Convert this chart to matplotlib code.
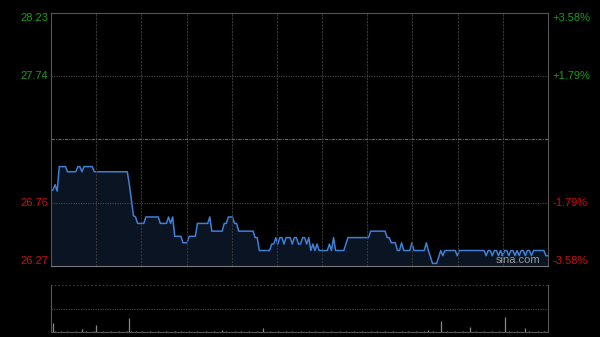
import matplotlib
matplotlib.use("Agg")
import matplotlib.pyplot as plt
import matplotlib.transforms as mtransforms

plt.rcParams['font.family'] = ['Liberation Sans', 'DejaVu Sans']

prev_close = 27.25
price_lo, price_hi = 26.27, 28.23
left_labels = ['28.23', '27.74', '26.76', '26.27']
left_values = [28.23, 27.74, 26.76, 26.27]
right_labels = ['+3.58%', '+1.79%', '-1.79%', '-3.58%']
label_colors = ['#1e9b1e', '#1e9b1e', '#cc1010', '#cc1010']

# one value per trading minute
prices = [
    26.85, 26.86, 26.90, 26.85, 27.04, 27.04, 27.04, 27.04, 27.00, 27.00,
    27.00, 27.00, 27.00, 27.04, 27.04, 27.00, 27.04, 27.04, 27.04, 27.04,
    27.04, 27.00, 27.00, 27.00, 27.00, 27.00, 27.00, 27.00, 27.00, 27.00,
    27.00, 27.00, 27.00, 27.00, 27.00, 27.00, 27.00, 27.00, 26.90, 26.78,
    26.66, 26.65, 26.60, 26.60, 26.60, 26.60, 26.65, 26.65, 26.65, 26.65,
    26.65, 26.65, 26.65, 26.60, 26.60, 26.60, 26.60, 26.65, 26.60, 26.65,
    26.50, 26.50, 26.50, 26.50, 26.45, 26.45, 26.45, 26.50, 26.50, 26.50,
    26.50, 26.60, 26.60, 26.60, 26.60, 26.60, 26.60, 26.65, 26.54, 26.54,
    26.54, 26.54, 26.54, 26.54, 26.60, 26.60, 26.65, 26.65, 26.65, 26.60,
    26.60, 26.54, 26.54, 26.54, 26.54, 26.54, 26.54, 26.54, 26.54, 26.49,
    26.49, 26.39, 26.39, 26.39, 26.39, 26.39, 26.39, 26.44, 26.44, 26.49,
    26.44, 26.49, 26.49, 26.44, 26.49, 26.49, 26.49, 26.44, 26.49, 26.49,
    26.44, 26.44, 26.49, 26.49, 26.44, 26.49, 26.39, 26.44, 26.39, 26.44,
    26.39, 26.39, 26.39, 26.39, 26.39, 26.44, 26.39, 26.49, 26.39, 26.39,
    26.39, 26.39, 26.39, 26.44, 26.49, 26.49, 26.49, 26.49, 26.49, 26.49,
    26.49, 26.49, 26.49, 26.49, 26.49, 26.54, 26.54, 26.54, 26.54, 26.54,
    26.54, 26.54, 26.54, 26.49, 26.49, 26.45, 26.45, 26.45, 26.39, 26.39,
    26.45, 26.39, 26.39, 26.39, 26.39, 26.45, 26.39, 26.39, 26.39, 26.39,
    26.39, 26.39, 26.45, 26.39, 26.34, 26.29, 26.29, 26.29, 26.34, 26.39,
    26.35, 26.39, 26.39, 26.39, 26.39, 26.39, 26.39, 26.35, 26.39, 26.39,
    26.39, 26.39, 26.39, 26.39, 26.39, 26.39, 26.39, 26.39, 26.39, 26.39,
    26.39, 26.35, 26.39, 26.39, 26.35, 26.39, 26.39, 26.35, 26.39, 26.35,
    26.39, 26.39, 26.35, 26.39, 26.39, 26.35, 26.39, 26.35, 26.39, 26.39,
    26.35, 26.39, 26.39, 26.35, 26.39, 26.39, 26.39, 26.39, 26.39, 26.39,
    26.35, 26.35,
]

volumes = [
    2, 19, 2, 1, 1, 2, 1, 1, 2, 1,
    1, 1, 2, 1, 1, 6, 1, 2, 1, 1,
    1, 2, 15, 1, 1, 2, 1, 1, 1, 2,
    1, 1, 1, 2, 1, 1, 1, 2, 30, 2,
    1, 2, 1, 1, 2, 1, 1, 1, 2, 1,
    1, 1, 2, 1, 1, 1, 2, 1, 1, 1,
    2, 1, 1, 2, 1, 1, 1, 2, 1, 1,
    1, 2, 1, 1, 1, 2, 1, 1, 1, 2,
    1, 1, 1, 4, 1, 2, 1, 1, 1, 2,
    1, 1, 2, 1, 1, 1, 2, 1, 1, 1,
    2, 1, 1, 9, 1, 1, 2, 1, 1, 1,
    2, 1, 1, 1, 2, 1, 1, 2, 1, 1,
    1, 2, 1, 1, 1, 2, 1, 1, 2, 1,
    1, 1, 2, 1, 1, 1, 2, 1, 1, 1,
    2, 1, 1, 2, 1, 1, 1, 2, 1, 1,
    1, 2, 1, 1, 1, 2, 1, 1, 2, 1,
    1, 1, 2, 1, 1, 1, 2, 1, 1, 1,
    2, 1, 1, 2, 1, 1, 1, 2, 1, 1,
    1, 2, 1, 4, 1, 2, 1, 1, 1, 23,
    1, 1, 2, 1, 1, 1, 2, 1, 1, 1,
    2, 1, 1, 11, 1, 1, 2, 1, 1, 1,
    2, 1, 1, 1, 2, 1, 1, 2, 1, 1,
    32, 1, 2, 1, 1, 1, 2, 1, 1, 1,
    9, 1, 2, 1, 1, 1, 2, 1, 1, 2,
    1, 2,
]

n = len(prices)
xs = list(range(n))

fig = plt.figure(figsize=(6, 3.37), dpi=100, facecolor='black')
ax = fig.add_axes([51/600, (337-266)/337, 497/600, 253/337], facecolor='black')
vax = fig.add_axes([51/600, (337-332)/337, 497/600, 47/337], facecolor='black')

ax.fill_between(xs, prices, price_lo, color='#0b1422', lw=0)
ax.plot(xs, prices, color='#3f7fd6', lw=1.1)
ax.set_xlim(0, n - 1)
ax.set_ylim(price_lo, price_hi)

for k in range(1, 11):
    ax.axvline((n - 1) * k / 11, color='#363636', lw=0.8, ls=(0, (2, 1)))
for v in [27.74, 26.76]:
    ax.axhline(v, color='#4a4a4a', lw=0.8, ls=(0, (1, 1.2)))
ax.axhline(prev_close, color='#666666', lw=0.8, ls=(0, (3, 1, 1, 1)))

ax.set_xticks([])
ax.set_yticks([])
for s in ['left', 'top', 'right']:
    ax.spines[s].set_color('#555555')
ax.spines['bottom'].set_color('#7a7a7a')

trans = mtransforms.blended_transform_factory(ax.transAxes, ax.transData)
for i, (lab, val, rlab, col) in enumerate(zip(left_labels, left_values, right_labels, label_colors)):
    va = 'top' if i == 0 else ('bottom' if i == len(left_labels) - 1 else 'center')
    ax.text(-0.006, val, lab, transform=trans, ha='right', va=va, color=col, fontsize=8)
    ax.text(1.009, val, rlab, transform=trans, ha='left', va=va, color=col, fontsize=8)

ax.text(0.94, 0.005, 'sina.com', transform=ax.transAxes, ha='center', va='bottom',
        color='#9a9a9a', fontsize=8)

vax.vlines(xs, 0, volumes, color='#888888', lw=0.9)
vax.set_xlim(0, n - 1)
vax.set_ylim(0, 100)
vax.axhline(50, color='#4a4a4a', lw=0.8, ls=(0, (1, 1.2)))
vax.axhline(100, color='#4a4a4a', lw=1.2, ls=(0, (1, 1.2)))
vax.set_xticks([])
vax.set_yticks([])
vax.spines['top'].set_visible(False)
for s in ['left', 'right', 'bottom']:
    vax.spines[s].set_color('#555555')

fig.savefig('out.png', dpi=100, facecolor='black')
